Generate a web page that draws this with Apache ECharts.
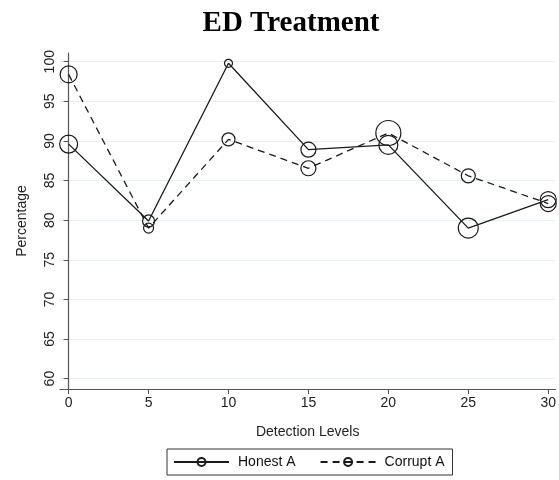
<!DOCTYPE html>
<html>
<head>
<meta charset="utf-8">
<script src="https://cdn.jsdelivr.net/npm/echarts@6/dist/echarts.min.js"></script>
<style>
    html, body { margin: 0; padding: 0; background: #ffffff; }
    #chart { width: 559px; height: 480px; }
</style>
</head>
<body>
<div id="chart"></div>
<script>
    // detection levels on the x axis
    var levels = [0, 5, 10, 15, 20, 25, 30];
    var yTicks = [60, 65, 70, 75, 80, 85, 90, 95, 100];
    // percentages
    var honestA = [89.6, 79.9, 99.8, 88.9, 89.5, 79.0, 82.6];
    var corruptA = [98.4, 79.0, 90.2, 86.55, 91.0, 85.6, 82.1];
    // weighted marker diameters
    var honestW = [18, 12, 8, 15, 19, 20, 16];
    var corruptW = [17, 10, 13, 15, 25, 14, 16];

    function points(vals, sizes) {
        var out = [];
        for (var i = 0; i < levels.length; i++) {
            out.push({ value: [levels[i], vals[i]], symbolSize: sizes[i] });
        }
        return out;
    }

    var ink = '#1a1a1a';
    var chart = echarts.init(document.getElementById('chart'));
    var option = {
        backgroundColor: '#ffffff',
        animation: false,
        title: {
            text: 'ED Treatment',
            left: 286,
            top: 4,
            textAlign: 'center',
            textStyle: {
                fontFamily: 'Liberation Serif',
                fontWeight: 'bold',
                fontSize: 29,
                color: '#000'
            }
        },
        grid: { left: 60, right: 0, top: 53, bottom: 91 },
        xAxis: {
            type: 'value',
            min: -0.54,
            max: 30.45,
            name: 'Detection Levels',
            nameLocation: 'middle',
            nameGap: 36,
            nameTextStyle: { fontFamily: 'Liberation Sans', fontSize: 14, color: '#222' },
            axisLine: { lineStyle: { color: '#555', width: 1.2 } },
            axisTick: { show: true, length: 5, customValues: levels, lineStyle: { color: '#555' } },
            axisLabel: { customValues: levels, margin: 7, fontFamily: 'Liberation Sans', fontSize: 14, color: '#222' },
            splitLine: { show: false }
        },
        yAxis: {
            type: 'value',
            min: 58.69,
            max: 101.1,
            name: 'Percentage',
            nameLocation: 'middle',
            nameGap: 31,
            nameTextStyle: { fontFamily: 'Liberation Sans', fontSize: 14, color: '#222' },
            axisLine: { show: true, lineStyle: { color: '#555', width: 1.2 } },
            axisTick: { show: true, length: 5, customValues: yTicks, lineStyle: { color: '#555' } },
            axisLabel: { customValues: yTicks, rotate: 90, margin: 3, fontFamily: 'Liberation Sans', fontSize: 14, color: '#222' },
            splitLine: { show: false }
        },
        legend: {
            left: 167,
            top: 449,
            orient: 'horizontal',
            itemWidth: 55,
            itemHeight: 10,
            itemGap: 24,
            padding: [6, 8, 6, 6],
            borderColor: '#333',
            borderWidth: 1,
            textStyle: { fontFamily: 'Liberation Sans', fontSize: 14, color: '#111', padding: [0, 0, 0, 4] },
            data: ['Honest A', 'Corrupt A']
        },
        series: [
            {
                name: 'Honest A',
                type: 'line',
                symbol: 'circle',
                symbolSize: 8,
                data: points(honestA, honestW),
                lineStyle: { color: ink, width: 1.3, type: 'solid' },
                itemStyle: { color: 'rgba(0,0,0,0)', borderColor: ink, borderWidth: 1.2 },
                markLine: {
                    silent: true,
                    symbol: ['none', 'none'],
                    label: { show: false },
                    lineStyle: { color: '#e6eff1', width: 1, type: 'solid' },
                    data: yTicks.map(function (v) { return { yAxis: v }; }),
                    z: 0
                },
                z: 3
            },
            {
                name: 'Corrupt A',
                type: 'line',
                symbol: 'circle',
                symbolSize: 8,
                data: points(corruptA, corruptW),
                lineStyle: { color: ink, width: 1.3, type: [7, 5] },
                itemStyle: { color: 'rgba(0,0,0,0)', borderColor: ink, borderWidth: 1.2 },
                z: 3
            }
        ]
    };
    chart.setOption(option);
</script>
</body>
</html>
